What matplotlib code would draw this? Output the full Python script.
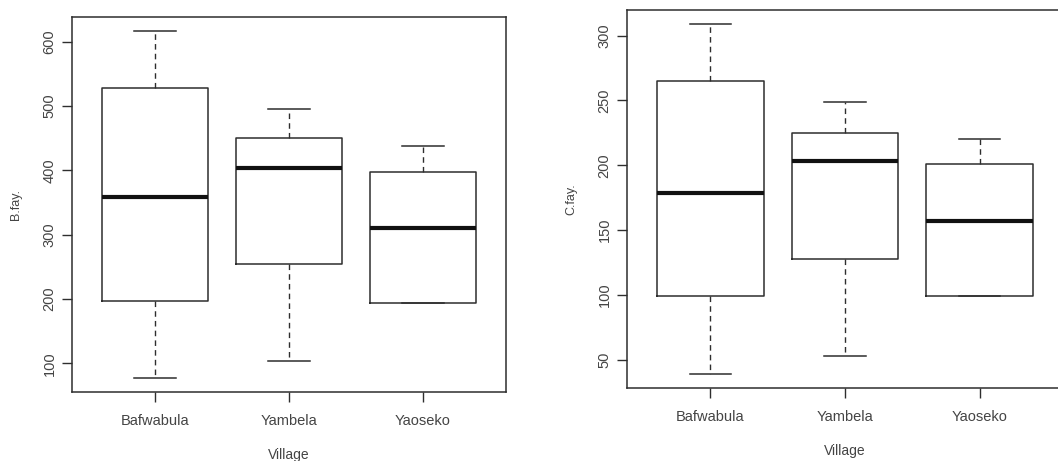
import matplotlib.pyplot as plt

plt.rcParams["font.family"] = ["Liberation Sans", "DejaVu Sans"]

villages = ["Bafwabula", "Yambela", "Yaoseko"]

# five-number summaries: low whisker, Q1, median, Q3, high whisker
b_low = [77, 104, 194]
b_q1 = [197, 255, 194]
b_med = [358, 404, 311]
b_q3 = [528, 451, 398]
b_high = [617, 496, 438]

c_low = [39, 53, 99]
c_q1 = [99, 128, 99]
c_med = [179, 203, 157]
c_q3 = [265, 225, 201]
c_high = [309, 249, 220]

ink = "#2e2e2e"
txt = "#444444"


def stats(low, q1, med, q3, high):
    out = []
    for i in range(len(villages)):
        out.append({"whislo": low[i], "q1": q1[i], "med": med[i], "q3": q3[i],
                    "whishi": high[i], "label": villages[i], "fliers": []})
    return out


def draw(ax, st, ylab, yticks):
    ax.bxp(st, positions=[1, 2, 3], widths=0.79, showfliers=False,
           boxprops=dict(color=ink, linewidth=1.1),
           medianprops=dict(color="#111111", linewidth=3),
           whiskerprops=dict(color=ink, linewidth=1, linestyle=(0, (4, 3))),
           capprops=dict(color=ink, linewidth=1.1),
           capwidths=0.31)
    lo = min(s["whislo"] for s in st)
    hi = max(s["whishi"] for s in st)
    pad = (hi - lo) * 0.04
    ax.set_ylim(lo - pad, hi + pad)
    ax.set_xlim(0.38, 3.62)
    ax.set_yticks(yticks)
    ax.set_yticklabels([str(t) for t in yticks], rotation=90, va="center")
    ax.set_xticks([1, 2, 3])
    ax.set_xticklabels(villages)
    ax.tick_params(colors=ink, labelcolor=txt, labelsize=10.5, length=7, width=1)
    ax.tick_params(axis="y", pad=4)
    ax.tick_params(axis="x", pad=9)
    for sp in ax.spines.values():
        sp.set_color(ink)
        sp.set_linewidth(1.1)
    ax.set_xlabel("Village", color=txt, fontsize=10, labelpad=14)
    ax.set_ylabel(ylab, color=txt, fontsize=9, labelpad=15)


fig = plt.figure(figsize=(10.58, 4.61), dpi=100)
ax1 = fig.add_axes([72 / 1058, 1 - 392 / 461, 434 / 1058, 375 / 461])
ax2 = fig.add_axes([627 / 1058, 1 - 388 / 461, 436 / 1058, 378 / 461])

draw(ax1, stats(b_low, b_q1, b_med, b_q3, b_high), "B.fay.", [100, 200, 300, 400, 500, 600])
draw(ax2, stats(c_low, c_q1, c_med, c_q3, c_high), "C.fay.", [50, 100, 150, 200, 250, 300])

fig.savefig("out.png", dpi=100)
